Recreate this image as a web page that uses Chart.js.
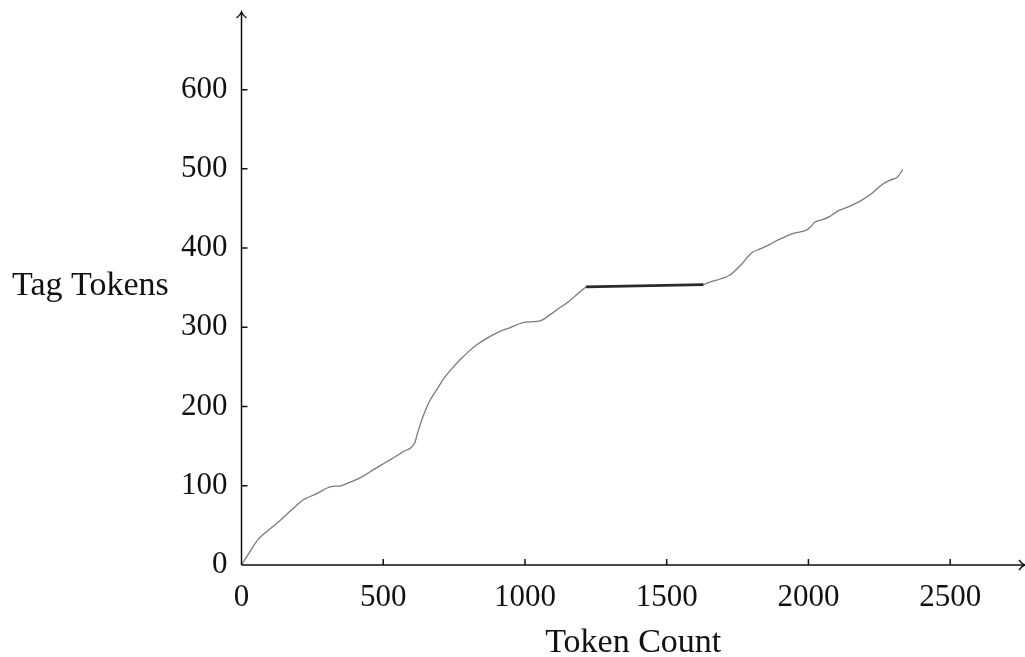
<!DOCTYPE html>
<html>
<head>
<meta charset="utf-8">
<script src="https://cdn.jsdelivr.net/npm/chart.js@4.4.0/dist/chart.umd.min.js"></script>
<style>
    html, body { margin: 0; padding: 0; background: #fff; }
    #wrap { width: 1025px; height: 657px; }
</style>
</head>
<body>
<div id="wrap"><canvas id="tagChart"></canvas></div>
<script>
// ==================== DATA ====================

const xTicks = [0, 500, 1000, 1500, 2000, 2500];
const yTicks = [0, 100, 200, 300, 400, 500, 600];

// first stretch, up to the flat part
const riseCount = [0, 30, 58, 95, 129, 175, 217, 265, 316, 350, 386, 418, 455, 492, 530, 570, 612, 619, 640, 665, 690, 711, 740, 771, 800, 830, 865, 901, 950, 993, 1020, 1053, 1070, 1089, 1120, 1152, 1185, 1215];
const riseTags = [0, 17, 32, 44, 54, 69, 82, 90, 99, 100, 105, 110, 118, 126, 134, 143, 155, 164, 187, 208, 222, 234, 247, 259, 269, 278, 286, 293, 300, 306, 307, 308, 311, 316, 324, 332, 342, 351];

// the bold flat stretch
const plateauCount = [1215, 1630];
const plateauTags = [351, 354];

// last stretch, after the flat part
const climbCount = [1630, 1660, 1690, 1723, 1760, 1800, 1830, 1860, 1885, 1910, 1950, 1995, 2010, 2023, 2050, 2076, 2100, 2140, 2181, 2220, 2259, 2290, 2312, 2333];
const climbTags = [354, 358, 361, 366, 378, 394, 399, 404, 409, 413, 419, 423, 428, 433, 436, 440, 446, 452, 459, 468, 480, 486, 489, 499];

const X_MAX = 2764;
const Y_MAX = 698;
const FONT = "'Liberation Serif', 'Times New Roman', serif";

// ==================== PLUGIN ====================

const axesDecor = {
    id: 'axesDecor',
    afterDraw(chart) {
        const ctx = chart.ctx;
        const xs = chart.scales.x;
        const ys = chart.scales.y;
        const area = chart.chartArea;
        const x0 = xs.getPixelForValue(0);
        const y0 = ys.getPixelForValue(0);

        ctx.save();
        ctx.strokeStyle = '#111';
        ctx.lineWidth = 1.5;

        // axis lines
        ctx.beginPath();
        ctx.moveTo(x0, y0);
        ctx.lineTo(x0, area.top);
        ctx.moveTo(x0, y0);
        ctx.lineTo(area.right, y0);
        ctx.stroke();

        // inward tick marks
        ctx.beginPath();
        xTicks.forEach(v => {
            if (v === 0) return;
            const px = xs.getPixelForValue(v);
            ctx.moveTo(px, y0);
            ctx.lineTo(px, y0 - 6);
        });
        yTicks.forEach(v => {
            if (v === 0) return;
            const py = ys.getPixelForValue(v);
            ctx.moveTo(x0, py);
            ctx.lineTo(x0 + 6, py);
        });
        ctx.stroke();

        // arrow heads
        ctx.lineWidth = 1.4;
        ctx.beginPath();
        ctx.moveTo(x0 - 5, area.top + 6);
        ctx.quadraticCurveTo(x0 - 1, area.top + 3, x0, area.top);
        ctx.quadraticCurveTo(x0 + 1, area.top + 3, x0 + 5, area.top + 6);
        ctx.moveTo(area.right - 6, y0 - 5);
        ctx.quadraticCurveTo(area.right - 3, y0 - 1, area.right, y0);
        ctx.quadraticCurveTo(area.right - 3, y0 + 1, area.right - 6, y0 + 5);
        ctx.stroke();

        // axis titles
        ctx.fillStyle = '#111';
        ctx.font = `34px ${FONT}`;
        ctx.textBaseline = 'alphabetic';
        ctx.textAlign = 'left';
        ctx.fillText('Tag Tokens', 12, 295);
        ctx.textAlign = 'center';
        ctx.fillText('Token Count', (area.left + area.right) / 2, 652);
        ctx.restore();
    }
};

function noPadding(scale) {
    scale.paddingTop = 0;
    scale.paddingBottom = 0;
    scale.paddingLeft = 0;
    scale.paddingRight = 0;
}

function toPoints(xs, ys) {
    return xs.map((v, i) => ({ x: v, y: ys[i] }));
}

// ==================== CHART ====================

window.addEventListener('DOMContentLoaded', () => {
    const ctx = document.getElementById('tagChart');
    const thinLine = {
        borderColor: '#7a7a7a',
        borderWidth: 1.3,
        pointRadius: 0,
        cubicInterpolationMode: 'monotone',
        fill: false
    };

    new Chart(ctx, {
        type: 'line',
        data: {
            datasets: [
                { ...thinLine, data: toPoints(riseCount, riseTags) },
                { ...thinLine, data: toPoints(climbCount, climbTags) },
                {
                    data: toPoints(plateauCount, plateauTags),
                    borderColor: '#2a2a2a',
                    borderWidth: 2.8,
                    pointRadius: 0,
                    fill: false
                }
            ]
        },
        options: {
            responsive: true,
            maintainAspectRatio: false,
            animation: false,
            layout: {
                padding: { top: 12, right: 0, left: 0, bottom: 0 }
            },
            plugins: {
                legend: { display: false },
                tooltip: { enabled: false }
            },
            scales: {
                x: {
                    type: 'linear',
                    min: 0,
                    max: X_MAX,
                    grid: { display: false, drawTicks: false },
                    border: { display: false },
                    afterBuildTicks: scale => { scale.ticks = xTicks.map(v => ({ value: v })); },
                    afterFit: scale => { scale.height = 92; noPadding(scale); },
                    ticks: {
                        color: '#111',
                        padding: 14,
                        maxRotation: 0,
                        autoSkip: false,
                        callback: v => String(v),
                        font: { family: FONT, size: 31 }
                    }
                },
                y: {
                    type: 'linear',
                    min: 0,
                    max: Y_MAX,
                    grid: { display: false, drawTicks: false },
                    border: { display: false },
                    afterBuildTicks: scale => { scale.ticks = yTicks.map(v => ({ value: v })); },
                    afterFit: scale => { scale.width = 241.5; noPadding(scale); },
                    ticks: {
                        color: '#111',
                        padding: 14,
                        autoSkip: false,
                        callback: v => String(v),
                        font: { family: FONT, size: 31 }
                    }
                }
            }
        },
        plugins: [axesDecor]
    });
});
</script>
</body>
</html>
